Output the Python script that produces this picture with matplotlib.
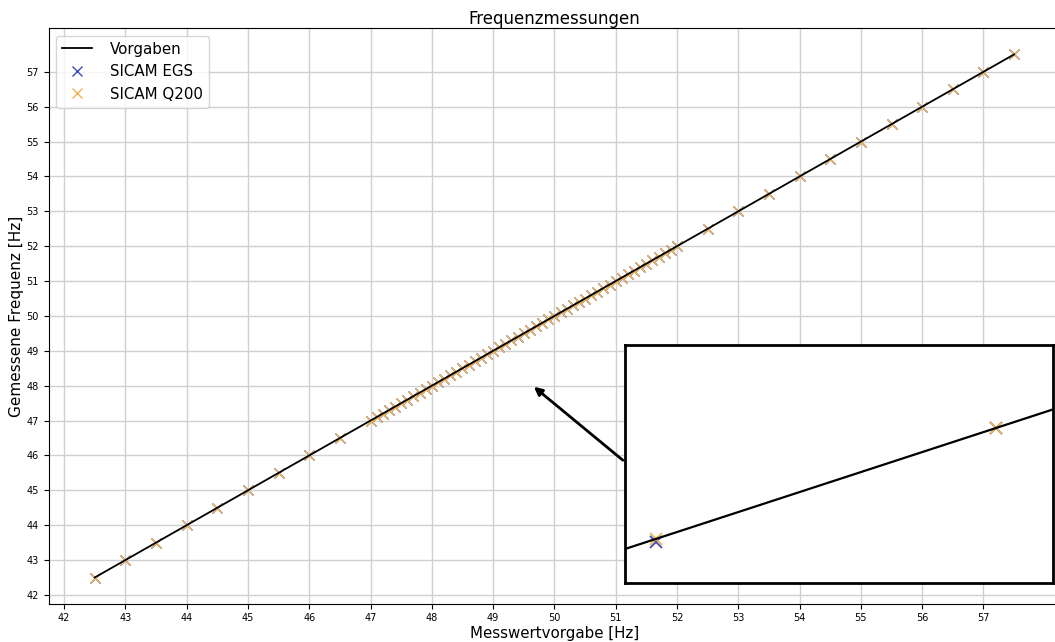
import numpy as np
import matplotlib
matplotlib.use("Agg")
import matplotlib.pyplot as plt

# Vorgaben (set values) in Hz
vorgabe = [42.5, 43.0, 43.5, 44.0, 44.5, 45.0, 45.5, 46.0, 46.5,
           47.0, 47.1, 47.2, 47.3, 47.4, 47.5, 47.6, 47.7, 47.8, 47.9,
           48.0, 48.1, 48.2, 48.3, 48.4, 48.5, 48.6, 48.7, 48.8, 48.9,
           49.0, 49.1, 49.2, 49.3, 49.4, 49.5, 49.6, 49.7, 49.8, 49.9,
           50.0, 50.1, 50.2, 50.3, 50.4, 50.5, 50.6, 50.7, 50.8, 50.9,
           51.0, 51.1, 51.2, 51.3, 51.4, 51.5, 51.6, 51.7, 51.8, 51.9,
           52.0, 52.5, 53.0, 53.5, 54.0, 54.5, 55.0, 55.5, 56.0, 56.5,
           57.0, 57.5]

# measured values SICAM EGS
egs = [42.5, 43.0, 43.5, 44.0, 44.5, 45.0, 45.5, 46.0, 46.5,
       47.0, 47.1, 47.2, 47.3, 47.4, 47.5, 47.6, 47.7, 47.8, 47.9,
       48.0, 48.1, 48.2, 48.3, 48.4, 48.5, 48.6, 48.7, 48.8, 48.9,
       49.0, 49.1, 49.2, 49.3, 49.4, 49.5, 49.597, 49.7, 49.8, 49.9,
       50.0, 50.1, 50.2, 50.3, 50.4, 50.5, 50.6, 50.7, 50.8, 50.9,
       51.0, 51.1, 51.2, 51.3, 51.4, 51.5, 51.6, 51.7, 51.8, 51.9,
       52.0, 52.5, 53.0, 53.5, 54.0, 54.5, 55.0, 55.5, 56.0, 56.5,
       57.0, 57.5]

# measured values SICAM Q200
q200 = [42.5, 43.0, 43.5, 44.0, 44.5, 45.0, 45.5, 46.0, 46.5,
        47.0, 47.1, 47.2, 47.3, 47.4, 47.5, 47.6, 47.7, 47.8, 47.9,
        48.0, 48.1, 48.2, 48.3, 48.4, 48.5, 48.6, 48.7, 48.8, 48.9,
        49.0, 49.1, 49.2, 49.3, 49.4, 49.5, 49.6, 49.7, 49.8, 49.9,
        50.0, 50.1, 50.2, 50.3, 50.4, 50.5, 50.6, 50.7, 50.8, 50.9,
        51.0, 51.1, 51.2, 51.3, 51.4, 51.5, 51.6, 51.7, 51.8, 51.9,
        52.0, 52.5, 53.0, 53.5, 54.0, 54.5, 55.0, 55.5, 56.0, 56.5,
        57.0, 57.5]

ticks = [42, 43, 44, 45, 46, 47, 48, 49, 50, 51, 52, 53, 54, 55, 56, 57]

blue = '#3b4cc0'
orange = '#f2b450'

fig = plt.figure(figsize=(10.55, 6.42), dpi=100)
ax = fig.add_axes([0.0462, 0.0597, 0.9586, 0.8963])

ax.plot(vorgabe, vorgabe, color='black', lw=1.3, label='Vorgaben', zorder=3)
ax.plot(vorgabe, egs, 'x', color=blue, ms=7, label='SICAM EGS', zorder=2)
ax.plot(vorgabe, q200, 'x', color=orange, ms=7, label='SICAM Q200', zorder=2)

ax.set_xlim(41.75, 58.25)
ax.set_ylim(41.75, 58.25)
ax.set_xticks(ticks)
ax.set_yticks(ticks)
ax.tick_params(labelsize=7)
ax.grid(True, color='#d0d0d0', lw=1)
ax.set_axisbelow(True)
ax.set_title('Frequenzmessungen', fontsize=12, pad=3)
ax.set_xlabel('Messwertvorgabe [Hz]', fontsize=10.8, labelpad=2)
ax.set_ylabel('Gemessene Frequenz [Hz]', fontsize=11, labelpad=1.5)
ax.legend(loc='upper left', fontsize=10.8, handletextpad=1.2, borderaxespad=0.5)

# inset with zoomed view
axin = fig.add_axes([625 / 1055, (642 - 582.7) / 642, 428 / 1055, 237.7 / 642])
axin.plot(vorgabe, vorgabe, color='black', lw=1.6, zorder=3)
axin.plot(vorgabe, egs, 'x', color=blue, ms=8, mew=1.3, zorder=1)
axin.plot(vorgabe, q200, 'x', color=orange, ms=8, mew=1.3, zorder=2)
axin.set_xlim(49.5909, 49.7168)
axin.set_ylim(49.5605, 49.7749)
axin.set_xticks([])
axin.set_yticks([])
for s in axin.spines.values():
    s.set_linewidth(2)
    s.set_color('black')

ax.annotate('', xy=(49.63, 48.02), xycoords='data',
            xytext=(625 / 1055, (642 - 462) / 642), textcoords='figure fraction',
            arrowprops=dict(arrowstyle='-|>', color='black', lw=2, mutation_scale=12),
            zorder=5)

fig.savefig('out.png', dpi=100)
